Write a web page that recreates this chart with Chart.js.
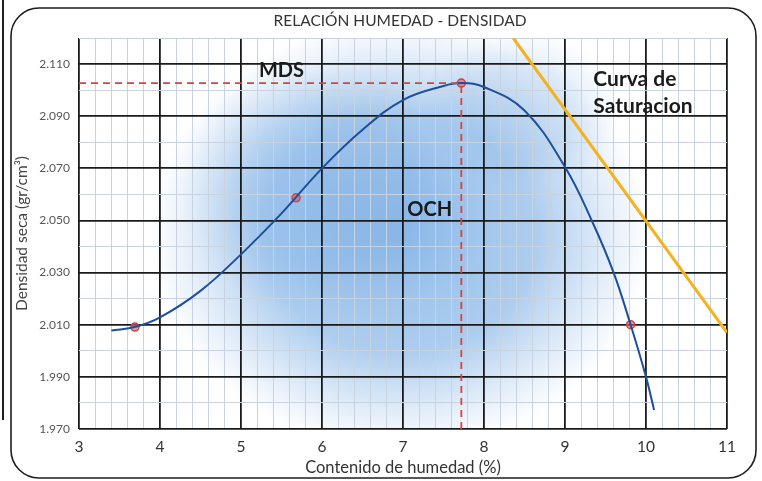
<!DOCTYPE html>
<html>
<head>
<meta charset="utf-8">
<script src="https://cdn.jsdelivr.net/npm/chart.js@4"></script>
<style>
  html, body { margin: 0; padding: 0; background: #fff; }
  #wrap { width: 762px; height: 481px; position: relative; }
</style>
</head>
<body>
<div id="wrap"><canvas id="c"></canvas></div>
<script>
// ---- data ----
const curveX = [3.40, 3.70, 4.00, 4.50, 5.00, 5.50, 6.00, 6.50, 7.00, 7.50, 7.72, 8.00, 8.50, 9.00, 9.33, 9.60, 9.81, 10.00, 10.10];
const curveY = [2.0078, 2.0092, 2.0128, 2.0230, 2.0370, 2.0527, 2.0700, 2.0848, 2.0962, 2.1016, 2.1027, 2.1012, 2.0922, 2.0705, 2.0500, 2.0300, 2.0100, 1.9900, 1.9773];
const testX = [3.69, 5.68, 7.72, 9.81];
const testY = [2.0091, 2.0587, 2.1027, 2.0100];
const satX = [8.36, 11.0];
const satY = [2.120, 2.007];
const optMoisture = 7.72;   // OCH
const maxDensity = 2.1027;  // MDS
const xTickLabels = ['3', '4', '5', '6', '7', '8', '9', '10', '11'];
const yTickLabels = ['1.970', '1.990', '2.010', '2.030', '2.050', '2.070', '2.090', '2.110'];
const labels = { title: 'RELACIÓN HUMEDAD - DENSIDAD', xTitle: 'Contenido de humedad (%)', yTitle: 'Densidad seca (gr/cm³)' };

const toPts = (xs, ys) => xs.map((x, i) => ({ x: x, y: ys[i] }));
const FONT = "Lato, 'Open Sans', sans-serif";

const isMajorX = v => Math.abs(v - Math.round(v)) < 1e-6;
const yIndex = v => Math.round((v - 1.97) / 0.01);
const isMajorY = v => yIndex(v) % 2 === 0;

const deco = {
  id: 'deco',
  beforeDraw(chart) {
    const { ctx, chartArea: a } = chart;
    ctx.save();
    ctx.fillStyle = '#fff';
    ctx.fillRect(0, 0, chart.width, chart.height);
    // soft blue cloud behind the grid
    ctx.beginPath();
    ctx.rect(a.left, a.top, a.right - a.left, a.bottom - a.top);
    ctx.clip();
    const blob = (cx, cy, rx, ry, col) => {
      ctx.save();
      ctx.translate(cx, cy);
      ctx.scale(rx / ry, 1);
      const g = ctx.createRadialGradient(0, 0, 0, 0, 0, ry);
      g.addColorStop(0, col);
      g.addColorStop(0.55, col.replace(/[\d.]+\)$/, m => (parseFloat(m) * 0.75) + ')'));
      g.addColorStop(1, 'rgba(120,170,225,0)');
      ctx.fillStyle = g;
      ctx.fillRect(-ry * 3, -ry * 3, ry * 6, ry * 6);
      ctx.restore();
    };
    blob(400, 235, 250, 215, 'rgba(100,160,224,0.7)');
    blob(330, 190, 150, 130, 'rgba(100,160,224,0.3)');
    blob(520, 110, 100, 80, 'rgba(110,165,225,0.25)');
    ctx.restore();
  },
  afterDraw(chart) {
    const { ctx, scales: { x, y } } = chart;
    ctx.save();
    // chart title
    ctx.fillStyle = '#333';
    ctx.font = "15.5px " + FONT;
    ctx.textAlign = 'center';
    ctx.textBaseline = 'middle';
    ctx.fillText(labels.title, 400, 21);
    // annotations
    ctx.fillStyle = '#1a1a1a';
    ctx.font = "bold 20px " + FONT;
    ctx.fillText('MDS', x.getPixelForValue(5.5), y.getPixelForValue(2.1077));
    ctx.fillText('OCH', x.getPixelForValue(7.33), y.getPixelForValue(2.0542));
    ctx.textAlign = 'left';
    ctx.font = "bold 21px " + FONT;
    ctx.fillText('Curva de', x.getPixelForValue(9.35), y.getPixelForValue(2.1042));
    ctx.fillText('Saturacion', x.getPixelForValue(9.35), y.getPixelForValue(2.0938));
    // rounded frame
    ctx.strokeStyle = '#1e1e1e';
    ctx.lineWidth = 1.6;
    ctx.beginPath();
    ctx.roundRect(11, 8, 745, 470, 28);
    ctx.stroke();
    // scan edge on the left
    ctx.lineWidth = 2;
    ctx.beginPath();
    ctx.moveTo(3, 0);
    ctx.lineTo(3, 420);
    ctx.stroke();
    ctx.restore();
  }
};

new Chart(document.getElementById('c'), {
  type: 'scatter',
  data: {
    datasets: [
      {
        label: 'MDS', type: 'line',
        data: [{ x: 3, y: maxDensity }, { x: optMoisture, y: maxDensity }],
        borderColor: '#d4453b', borderWidth: 1.8, borderDash: [7, 5], pointRadius: 0, fill: false
      },
      {
        label: 'OCH', type: 'line',
        data: [{ x: optMoisture, y: 1.97 }, { x: optMoisture, y: maxDensity }],
        borderColor: '#d4453b', borderWidth: 1.8, borderDash: [7, 5], pointRadius: 0, fill: false
      },
      {
        label: 'Curva de saturación', type: 'line',
        data: toPts(satX, satY),
        borderColor: '#f5b21f', borderWidth: 3, pointRadius: 0, fill: false
      },
      {
        label: 'Curva', type: 'line',
        data: toPts(curveX, curveY),
        borderColor: '#1d4f9c', borderWidth: 2, pointRadius: 0, fill: false,
        tension: 0.4
      },
      {
        label: 'Ensayos',
        data: toPts(testX, testY),
        pointRadius: 4, pointBorderWidth: 1.5,
        borderColor: '#d4453b', backgroundColor: 'rgba(200,100,120,0.65)'
      }
    ]
  },
  plugins: [deco],
  options: {
    responsive: true,
    maintainAspectRatio: false,
    animation: false,
    layout: { padding: { left: 0, right: 35, top: 38, bottom: 0 } },
    plugins: {
      legend: { display: false },
      tooltip: { enabled: false },
      title: { display: false }
    },
    scales: {
      x: {
        type: 'linear', min: 3, max: 11,
        afterFit(s) { s.height = 52; },
        ticks: {
          stepSize: 0.2, autoSkip: false, maxRotation: 0, padding: 9,
          color: '#333', font: { family: FONT, size: 15.5 },
          callback(v) { return isMajorX(v) ? xTickLabels[Math.round(v) - 3] : ''; }
        },
        grid: {
          drawTicks: false,
          color: c => isMajorX(c.tick.value) ? '#1a1a1a' : '#c9d3e0',
          lineWidth: c => isMajorX(c.tick.value) ? 1.8 : 1
        },
        border: { display: false },
        title: {
          display: true, text: labels.xTitle, color: '#333',
          font: { family: FONT, size: 16.5 }, padding: { top: 0, bottom: 3 }
        }
      },
      y: {
        type: 'linear', min: 1.97, max: 2.12,
        afterFit(s) { s.width = 79; },
        ticks: {
          stepSize: 0.01, autoSkip: false, padding: 9,
          color: '#555', font: { family: FONT, size: 12 },
          callback(v) { const i = yIndex(v); return (i % 2 === 0 && i / 2 < yTickLabels.length) ? yTickLabels[i / 2] : ''; }
        },
        grid: {
          drawTicks: false,
          color: c => isMajorY(c.tick.value) ? '#1a1a1a' : '#c9d3e0',
          lineWidth: c => isMajorY(c.tick.value) ? 1.8 : 1
        },
        border: { display: false },
        title: {
          display: true, text: labels.yTitle, color: '#444',
          font: { family: FONT, size: 15.5 }, padding: { top: 13, bottom: 0 }
        }
      }
    }
  }
});
</script>
</body>
</html>
